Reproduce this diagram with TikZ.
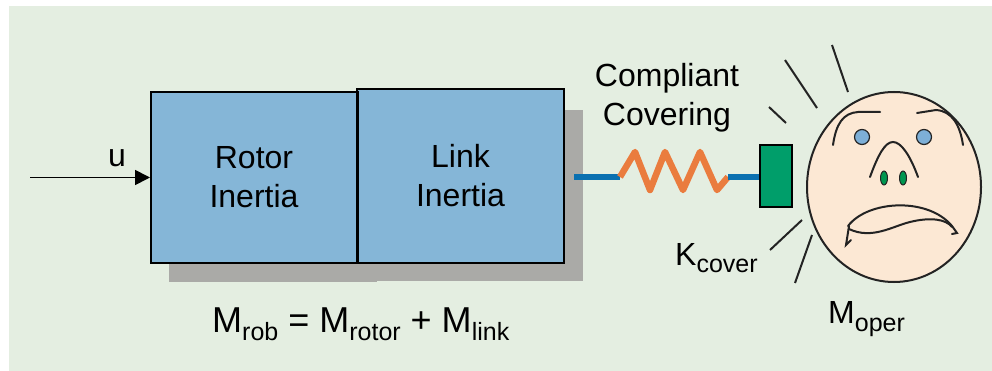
\documentclass[tikz,border=0pt]{standalone}
\usepackage{fontspec}
\setmainfont{Liberation Sans}
\usetikzlibrary{arrows.meta}

\definecolor{panel}{RGB}{228,238,225}
\definecolor{boxblue}{RGB}{133,182,215}
\definecolor{shadowgray}{RGB}{170,170,167}
\definecolor{rod}{RGB}{10,112,176}
\definecolor{springc}{RGB}{234,124,62}
\definecolor{padgreen}{RGB}{0,158,106}
\definecolor{skin}{RGB}{252,232,212}
\definecolor{eyeblue}{RGB}{125,175,215}
\definecolor{nostril}{RGB}{0,150,80}
\definecolor{ink}{RGB}{35,35,35}

\newcommand\labelfont{\fontsize{32}{39}\selectfont}
\newcommand\lowsub[1]{\raisebox{-8pt}{\fontsize{25}{25}\selectfont #1}}

\tikzset{
  massbox/.style={draw=black, line width=2pt, fill=boxblue, rectangle,
    inner sep=0pt, align=center, font=\labelfont},
  rodline/.style={draw=rod, line width=6.5pt},
  springline/.style={draw=springc, line width=6.5pt, line join=round},
  padbox/.style={draw=black, line width=2pt, fill=padgreen, rectangle,
    minimum width=32pt, minimum height=62pt, inner sep=0pt},
  ray/.style={draw=ink, line width=2pt},
  facestroke/.style={draw=ink, line width=2pt, line cap=round},
  txt/.style={font=\labelfont, inner sep=0pt, align=center},
}

\begin{document}
\begin{tikzpicture}[x=1pt,y=-1pt]
\useasboundingbox (0,0) rectangle (992,371);
\fill[panel] (9,6) rectangle (992,371);

% drop shadows behind the two inertia blocks
\fill[shadowgray] (169,263) rectangle (377,282);
\fill[shadowgray] (372,110) rectangle (583,281);

% the two inertia blocks
\node[massbox, minimum width=206pt, minimum height=171pt] (rotor) at (254,177.5) {Rotor\\Inertia};
\node[massbox, minimum width=207pt, minimum height=174pt] (link) at (460.5,176) {Link\\Inertia};
\draw[line width=2pt] (rotor.north east) -- (rotor.south east);

% input
\coordinate (uin) at (30,177.5);
\draw[line width=1.8pt, -{Triangle[length=15pt,width=15pt]}] (uin) -- (rotor.west);
\node[txt, anchor=base] (ulabel) at (117,167) {u};

% compliant covering: rod, spring, pad
\node[padbox] (pad) at (776,176) {};
\coordinate (rod0) at (574,177);
\coordinate (sp1) at (620,177);
\coordinate (sp2) at (728,177);
\draw[rodline] (rod0) -- (sp1);
\draw[springline] (sp1) -- (635,152) -- (650,190) -- (665,152) -- (683,190)
  -- (700,152) -- (717,190) -- (sp2);
\draw[rodline] (sp2) -- (pad.west |- sp2);

\node[txt, anchor=north] (cover) at (667,63) {Compliant\\Covering};
\node[txt, anchor=base west] (kcover) at (675,265) {K\lowsub{cover}};

% impact rays
\draw[ray] (832,45) -- (848,92);
\draw[ray] (785,60) -- (817,108);
\draw[ray] (769,107) -- (786,123);
\draw[ray] (770,250) -- (802,220);
\draw[ray] (795,283) -- (812,235);

% operator head
\filldraw[fill=skin, draw=ink, line width=2pt] (894,187) ellipse [x radius=87, y radius=95];
% eyebrows
\draw[facestroke] (833,145) .. controls (836,124) and (843,113) .. (858,112) -- (880,112);
\draw[facestroke] (917,113) -- (936,110) .. controls (952,111) and (960,125) .. (963,145);
% eyes
\filldraw[fill=eyeblue, draw=ink, line width=1.2pt] (862,137) circle (7.5);
\filldraw[fill=eyeblue, draw=ink, line width=1.2pt] (924,137) circle (7.5);
% nose and nostrils
\draw[facestroke] (870,177) .. controls (878,155) and (885,142) .. (893,142)
  .. controls (901,142) and (910,155) .. (918,177);
\filldraw[fill=nostril, draw=ink, line width=1pt] (884,178) ellipse [x radius=3.5, y radius=7];
\filldraw[fill=nostril, draw=ink, line width=1pt] (903,178) ellipse [x radius=3.5, y radius=7];
% mouth
\draw[facestroke] (848,226) .. controls (868,200) and (928,197) .. (952,226);
\draw[facestroke] (849,229) .. controls (872,240) and (893,226) .. (910,222)
  .. controls (930,217) and (946,219) .. (952,227);
\draw[facestroke] (849,226) -- (846,245) -- (851,240);
\draw[facestroke] (952,226) -- (957,233) -- (952,234);

\node[txt, anchor=base west] (moper) at (828,323) {M\lowsub{oper}};

% mass relation
\node[txt, anchor=base west, font=\fontsize{36}{36}\selectfont] (mrob) at (212,332)
  {M\lowsub{rob} = M\lowsub{rotor} + M\lowsub{link}};
\end{tikzpicture}
\end{document}
